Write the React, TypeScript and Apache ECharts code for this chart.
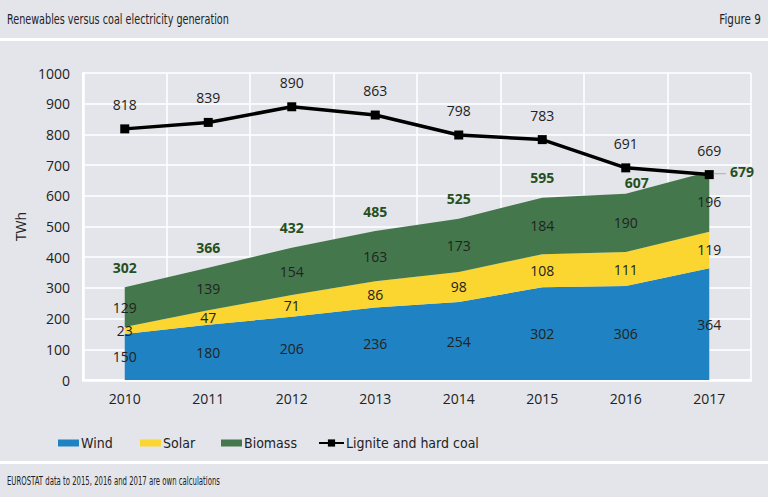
import React, { useEffect, useRef } from "react";
import * as echarts from "echarts";

const years = ["2010", "2011", "2012", "2013", "2014", "2015", "2016", "2017"];
const wind = [150, 180, 206, 236, 254, 302, 306, 364];
const solar = [23, 47, 71, 86, 98, 108, 111, 119];
const biomass = [129, 139, 154, 163, 173, 184, 190, 196];
const renewablesTotal = [302, 366, 432, 485, 525, 595, 607, 679];
const coal = [818, 839, 890, 863, 798, 783, 691, 669];
const yTicks = { min: 0, max: 1000, interval: 100 };

const BG = "#e4e5ea";
const NARROW = '"Liberation Sans Narrow", "DejaVu Sans Condensed", "Roboto Condensed", sans-serif';
const NUM = '"Open Sans", "Noto Sans", sans-serif';
const GREEN_TXT = "#24501f";

export default function App() {
  const ref = useRef<HTMLDivElement>(null);
  useEffect(() => {
    if (!ref.current) return;
    const chart = echarts.init(ref.current, undefined, { renderer: "svg" });

    const mid = (base: number[], vals: number[]) =>
      vals.map((v, i) => ({ value: base[i] + v / 2, label: { formatter: String(v) } }));
    const zeros = years.map(() => 0);
    const windTop = wind.slice();
    const solarTop = wind.map((w, i) => w + solar[i]);

    const midLabel = {
      show: true,
      position: "inside",
      color: "#222",
      textBorderWidth: 0,
      fontFamily: NUM,
      fontSize: 14,
    };

    const option: any = {
      animation: false,
      backgroundColor: "#ffffff",
      graphic: [
        { type: "rect", z: -10, shape: { x: 0, y: 0, width: 768, height: 38 }, style: { fill: BG } },
        { type: "rect", z: -10, shape: { x: 0, y: 41, width: 768, height: 420 }, style: { fill: BG } },
        { type: "rect", z: -10, shape: { x: 0, y: 464, width: 768, height: 33 }, style: { fill: BG } },
        {
          type: "text",
          x: 7,
          y: 19,
          scaleX: 0.74,
          style: {
            text: "Renewables versus coal electricity generation",
            fill: "#222",
            font: `14.5px ${NARROW}`,
            textVerticalAlign: "middle",
          },
        },
        {
          type: "text",
          x: 761,
          y: 19,
          scaleX: 0.8,
          style: {
            text: "Figure 9",
            fill: "#222",
            font: `14.5px ${NARROW}`,
            textAlign: "right",
            textVerticalAlign: "middle",
          },
        },
        {
          type: "text",
          x: 7,
          y: 481,
          scaleX: 0.67,
          style: {
            text: "EUROSTAT data to 2015, 2016 and 2017 are own calculations",
            fill: "#222",
            font: `11.5px ${NARROW}`,
            textVerticalAlign: "middle",
          },
        },
      ],
      legend: [
        { name: "Wind", left: 53 },
        { name: "Solar", left: 135 },
        { name: "Biomass", left: 216 },
        { name: "Lignite and hard coal", left: 313 },
      ].map((l) => {
        const isLine = l.name === "Lignite and hard coal";
        return {
          data: [isLine ? l.name : { name: l.name, icon: "rect" }],
          left: l.left,
          top: 431,
          itemWidth: isLine ? 25 : 21,
          itemHeight: isLine ? 9 : 7,
          itemGap: 4,
          textStyle: { fontFamily: NARROW, fontSize: 14, color: "#222", padding: [0, 0, 0, -3] },
        };
      }),
      grid: { left: 83, right: 17, top: 73, bottom: 119 },
      xAxis: {
        type: "category",
        data: years,
        boundaryGap: true,
        axisLine: { lineStyle: { color: "#ffffff", width: 2.5 } },
        axisTick: { show: false },
        axisLabel: { color: "#222", fontFamily: NUM, fontSize: 14, margin: 11 },
        splitLine: { show: true, lineStyle: { color: "#ffffff", width: 1.5 } },
      },
      yAxis: {
        type: "value",
        min: yTicks.min,
        max: yTicks.max,
        interval: yTicks.interval,
        name: "TWh",
        nameLocation: "middle",
        nameGap: 43,
        nameTextStyle: { color: "#222", fontFamily: NUM, fontSize: 14 },
        axisLine: { show: true, lineStyle: { color: "#ffffff", width: 2.5 } },
        axisTick: { show: false },
        axisLabel: {
          color: "#222",
          fontFamily: NUM,
          fontSize: 14,
          margin: 13,
          formatter: (v: number) => String(v),
        },
        splitLine: { show: true, lineStyle: { color: "#ffffff", width: 1.5 } },
      },
      series: [
        {
          name: "Wind",
          type: "line",
          stack: "ren",
          data: wind,
          symbol: "none",
          color: "#1f82c3",
          lineStyle: { width: 0 },
          areaStyle: { color: "#1f82c3", opacity: 1 },
        },
        {
          name: "Solar",
          type: "line",
          stack: "ren",
          data: solar,
          symbol: "none",
          color: "#fbd530",
          lineStyle: { width: 0 },
          areaStyle: { color: "#fbd530", opacity: 1 },
        },
        {
          name: "Biomass",
          type: "line",
          stack: "ren",
          data: biomass,
          symbol: "none",
          color: "#44774c",
          lineStyle: { width: 0 },
          areaStyle: { color: "#44774c", opacity: 1 },
        },
        {
          name: "Lignite and hard coal",
          type: "line",
          data: coal,
          color: "#000",
          symbol: "rect",
          symbolSize: 9,
          lineStyle: { color: "#000", width: 3.5 },
          z: 5,
          label: {
            show: true,
            position: "top",
            distance: 13,
            color: "#222",
            textBorderWidth: 0,
            fontFamily: NUM,
            fontSize: 14,
          },
        },
        {
          name: "windLabels",
          type: "scatter",
          symbolSize: 0,
          silent: true,
          itemStyle: { opacity: 1 },
          data: mid(zeros, wind),
          label: midLabel,
          z: 6,
        },
        {
          name: "solarLabels",
          type: "scatter",
          symbolSize: 0,
          silent: true,
          itemStyle: { opacity: 1 },
          data: mid(windTop, solar),
          label: midLabel,
          z: 6,
        },
        {
          name: "biomassLabels",
          type: "scatter",
          symbolSize: 0,
          silent: true,
          itemStyle: { opacity: 1 },
          data: mid(solarTop, biomass),
          label: midLabel,
          z: 6,
        },
        {
          name: "totals",
          type: "scatter",
          symbolSize: 0,
          silent: true,
          itemStyle: { opacity: 1 },
          z: 6,
          data: renewablesTotal.map((v, i) => {
            if (i === years.length - 1) {
              return {
                value: v,
                label: {
                  position: "right",
                  distance: 4,
                  formatter: "{d|—} {v|" + v + "}",
                  rich: {
                    d: { color: "#b5b8bf", fontSize: 13, fontFamily: NUM },
                    v: { color: GREEN_TXT, fontSize: 14, fontWeight: "bold", fontFamily: NUM },
                  },
                },
              };
            }
            if (i === years.length - 2) {
              return { value: v, label: { offset: [11, 9] } };
            }
            return v;
          }),
          label: {
            show: true,
            position: "top",
            distance: 13,
            color: GREEN_TXT,
            textBorderWidth: 0,
            fontWeight: "bold",
            fontFamily: NUM,
            fontSize: 14,
          },
        },
      ],
    };
    chart.setOption(option);
    return () => chart.dispose();
  }, []);
  return (
    <div
      ref={ref}
      style={{ position: "fixed", left: 0, top: 0, width: 768, height: 499 }}
    />
  );
}
